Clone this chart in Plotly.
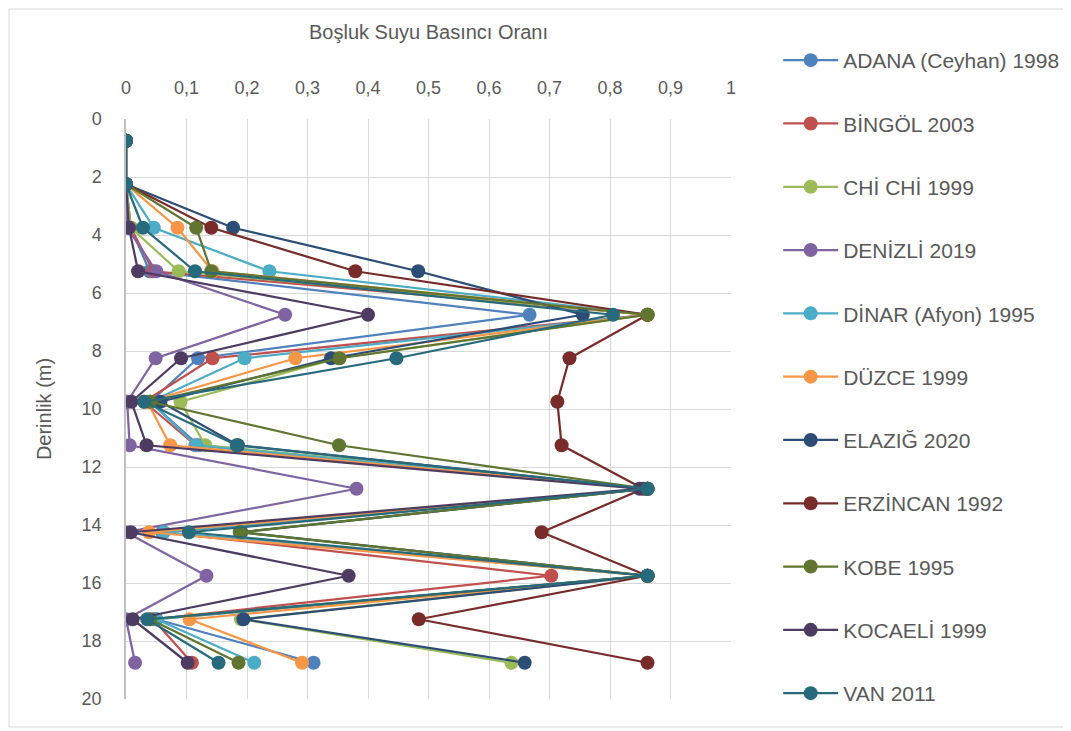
import plotly.graph_objects as go

# derinlik (m) - ölçüm noktaları
depths = [0.75, 2.25, 3.75, 5.25, 6.75, 8.25, 9.75, 11.25, 12.75, 14.25, 15.75, 17.25, 18.75]

adana = [0, 0, 0.008, 0.039, 0.667, 0.119, 0.040, 0.120, 0.862, 0.060, 0.862, 0.050, 0.310]
bingol = [0, 0, 0.008, 0.045, 0.862, 0.143, 0.030, 0.115, 0.862, 0.062, 0.703, 0.045, 0.109]
chichi = [0, 0, 0.008, 0.087, 0.862, 0.350, 0.090, 0.131, 0.862, 0.190, 0.862, 0.190, 0.637]
denizli = [0, 0, 0.002, 0.050, 0.263, 0.049, 0.002, 0.006, 0.381, 0.000, 0.133, 0.000, 0.015]
dinar = [0, 0, 0.046, 0.237, 0.862, 0.196, 0.040, 0.116, 0.862, 0.062, 0.862, 0.050, 0.212]
duzce = [0, 0, 0.085, 0.143, 0.862, 0.280, 0.035, 0.073, 0.862, 0.038, 0.862, 0.105, 0.291]
elazig = [0, 0, 0.177, 0.483, 0.755, 0.339, 0.057, 0.185, 0.862, 0.190, 0.862, 0.194, 0.659]
erzincan = [0, 0, 0.141, 0.379, 0.862, 0.733, 0.713, 0.720, 0.855, 0.687, 0.862, 0.484, 0.862]
kobe = [0, 0, 0.116, 0.141, 0.862, 0.353, 0.040, 0.352, 0.862, 0.188, 0.862, 0.040, 0.186]
kocaeli = [0, 0, 0.005, 0.020, 0.400, 0.091, 0.009, 0.034, 0.849, 0.008, 0.368, 0.011, 0.102]
van = [0, 0, 0.028, 0.114, 0.805, 0.447, 0.030, 0.183, 0.862, 0.104, 0.862, 0.035, 0.153]

series = [
    ("ADANA (Ceyhan) 1998", adana, "#4F81BD"),
    ("BİNGÖL 2003", bingol, "#C0504D"),
    ("CHİ CHİ 1999", chichi, "#9BBB59"),
    ("DENİZLİ 2019", denizli, "#8064A2"),
    ("DİNAR (Afyon) 1995", dinar, "#4BACC6"),
    ("DÜZCE 1999", duzce, "#F79646"),
    ("ELAZIĞ 2020", elazig, "#2C4D75"),
    ("ERZİNCAN 1992", erzincan, "#772C2A"),
    ("KOBE 1995", kobe, "#5F7530"),
    ("KOCAELİ 1999", kocaeli, "#4D3B62"),
    ("VAN 2011", van, "#276A7C"),
]

fig = go.Figure()
for name, vals, col in series:
    fig.add_trace(go.Scatter(
        x=vals, y=depths, name=name, mode="lines+markers",
        line=dict(color=col, width=2.25),
        marker=dict(color=col, size=14),
        legendgroup=name,
    ))

grey = "#595959"
# the page body has an 8px margin, so the figure is drawn 8px smaller and shifted
W, H = 1063, 723
ml, mt = 118, 111
pw, ph = 605, 580
mr, mb = W - ml - pw, H - mt - ph

fig.update_layout(
    width=W, height=H,
    margin=dict(l=ml, r=mr, t=mt, b=mb, autoexpand=False),
    paper_bgcolor="white", plot_bgcolor="white",
    separators=", ",
    font=dict(family="Liberation Sans, Arial", color=grey, size=18),
    showlegend=True,
    legend=dict(
        x=1.078, xanchor="left", y=1 + (mt - 32) / ph, yanchor="top",
        tracegroupgap=33, itemwidth=55, maxheight=1,
        font=dict(size=21, color=grey),
    ),
    xaxis=dict(
        side="top", range=[0, 1], dtick=0.1, tickformat=".1~f",
        showgrid=True, gridcolor="#D9D9D9", gridwidth=1, automargin=False,
        zeroline=False, showline=False, ticks="", ticklabelstandoff=20,
        title=dict(text="Boşluk Suyu Basıncı Oranı", font=dict(size=20, color=grey), standoff=33),
    ),
    yaxis=dict(
        range=[20, 0], dtick=2, automargin=False,
        showgrid=True, gridcolor="#D9D9D9", gridwidth=1,
        zeroline=False, showline=True, linecolor="#BFBFBF", linewidth=1.5,
        ticks="", ticklabelstandoff=19,
        title=dict(text="Derinlik (m)", font=dict(size=20, color=grey), standoff=25),
    ),
    shapes=[dict(
        type="rect", xref="paper", yref="paper",
        x0=(1 - ml) / pw, x1=(W - 5 - ml) / pw,
        y0=-(mb - 4) / ph, y1=1 + (mt - 1) / ph,
        line=dict(color="#D9D9D9", width=1), fillcolor="rgba(0,0,0,0)",
    )],
)

fig.write_html("out.html")
